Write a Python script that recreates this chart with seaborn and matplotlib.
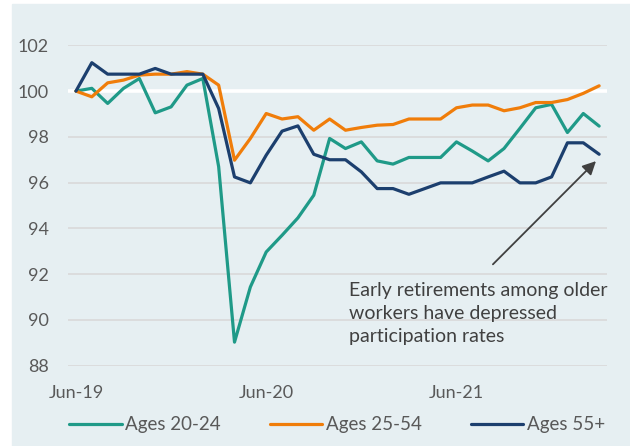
import pandas as pd
import matplotlib.pyplot as plt
import seaborn as sns
from matplotlib.patches import Rectangle

# Dados (indice, Jun-19 = 100)
months = pd.date_range('2019-06-01', periods=34, freq='MS')
ages_20_24 = [100.0, 100.12, 99.46, 100.12, 100.55, 99.05, 99.31, 100.26, 100.55, 96.7,
              89.03, 91.44, 92.97, 93.7, 94.46, 95.45, 97.93, 97.49, 97.78, 96.95,
              96.81, 97.1, 97.1, 97.1, 97.78, 97.38, 96.95, 97.49, 98.37, 99.27,
              99.42, 98.19, 99.02, 98.47]
ages_25_54 = [100.0, 99.75, 100.36, 100.48, 100.7, 100.74, 100.74, 100.85, 100.74, 100.26,
              96.98, 97.93, 99.02, 98.78, 98.88, 98.29, 98.78, 98.29, 98.41, 98.51,
              98.54, 98.78, 98.78, 98.78, 99.27, 99.39, 99.39, 99.14, 99.27, 99.5,
              99.5, 99.63, 99.9, 100.23]
ages_55 = [100.0, 101.24, 100.74, 100.74, 100.74, 100.99, 100.74, 100.74, 100.74, 99.24,
           96.25, 95.99, 97.2, 98.25, 98.48, 97.24, 97.0, 97.0, 96.47, 95.74,
           95.74, 95.49, 95.74, 95.99, 95.99, 95.99, 96.25, 96.5, 95.99, 95.99,
           96.25, 97.74, 97.74, 97.24]
series_names = ['Ages 20-24', 'Ages 25-54', 'Ages 55+']
tick_months = ['Jun-19', 'Jun-20', 'Jun-21']

df = pd.DataFrame({'mes': months, 'Ages 20-24': ages_20_24,
                   'Ages 25-54': ages_25_54, 'Ages 55+': ages_55})
df['pos'] = range(len(df))
df_long = df.melt(id_vars=['mes', 'pos'], value_vars=series_names,
                  var_name='grupo', value_name='indice')

sns.set_theme(style="white")
plt.rcParams['font.family'] = ['Lato', 'DejaVu Sans']

bg = '#E6EFF2'
cinza = '#595959'
cores = {'Ages 20-24': '#1F9A88', 'Ages 25-54': '#F07D0A', 'Ages 55+': '#1C3F6E'}

fig = plt.figure(figsize=(6.3, 4.46), dpi=100)
fig.patch.set_facecolor('white')
fig.patches.append(Rectangle((12 / 630, 0), 1, (446 - 4) / 446,
                             transform=fig.transFigure, color=bg, zorder=-1))
ax = fig.add_axes([0.108, 0.18, 0.8556, 0.7184])
ax.set_facecolor(bg)

sns.lineplot(data=df_long, x='pos', y='indice', hue='grupo', palette=cores,
             linewidth=2.3, ax=ax, legend=True)

ax.set_xlim(-0.5, 33.5)
ax.set_ylim(88, 102)
ax.set_yticks(range(88, 103, 2))
pos_ticks = [df.loc[df['mes'].dt.strftime('%b-%y') == t, 'pos'].iloc[0] for t in tick_months]
ax.set_xticks(pos_ticks)
ax.set_xticklabels(tick_months)
ax.set_xlabel('')
ax.set_ylabel('')
ax.tick_params(axis='both', length=0, labelsize=13, labelcolor=cinza)
ax.tick_params(axis='y', pad=14)
ax.tick_params(axis='x', pad=14)

# Grades
for y in range(88, 103, 2):
    if y == 100:
        ax.axhline(y, color='white', linewidth=2.6, zorder=0.5)
    else:
        ax.axhline(y, color='#D9D9D9', linewidth=1.2, zorder=0.5)
for s in ax.spines.values():
    s.set_visible(False)

# Anotacao
ax.annotate('', xy=(32.8, 96.94), xytext=(26.3, 92.43),
            arrowprops=dict(arrowstyle='-|>', color='#404040', lw=1.3,
                            mutation_scale=20, shrinkA=0, shrinkB=0))
ax.text(17.2, 90.29, 'Early retirements among older\nworkers have depressed\nparticipation rates',
        ha='left', va='center', fontsize=14, color='#404040', linespacing=1.45)

leg = ax.legend(loc='center', bbox_to_anchor=(0.499, -0.185), ncol=3, frameon=False,
                fontsize=13.5, handlelength=2.8, handletextpad=0.2, columnspacing=2.6)
for t in leg.get_texts():
    t.set_color(cinza)
for h in leg.get_lines():
    h.set_linewidth(2.3)

plt.savefig('out.png', dpi=100, facecolor=fig.get_facecolor())
